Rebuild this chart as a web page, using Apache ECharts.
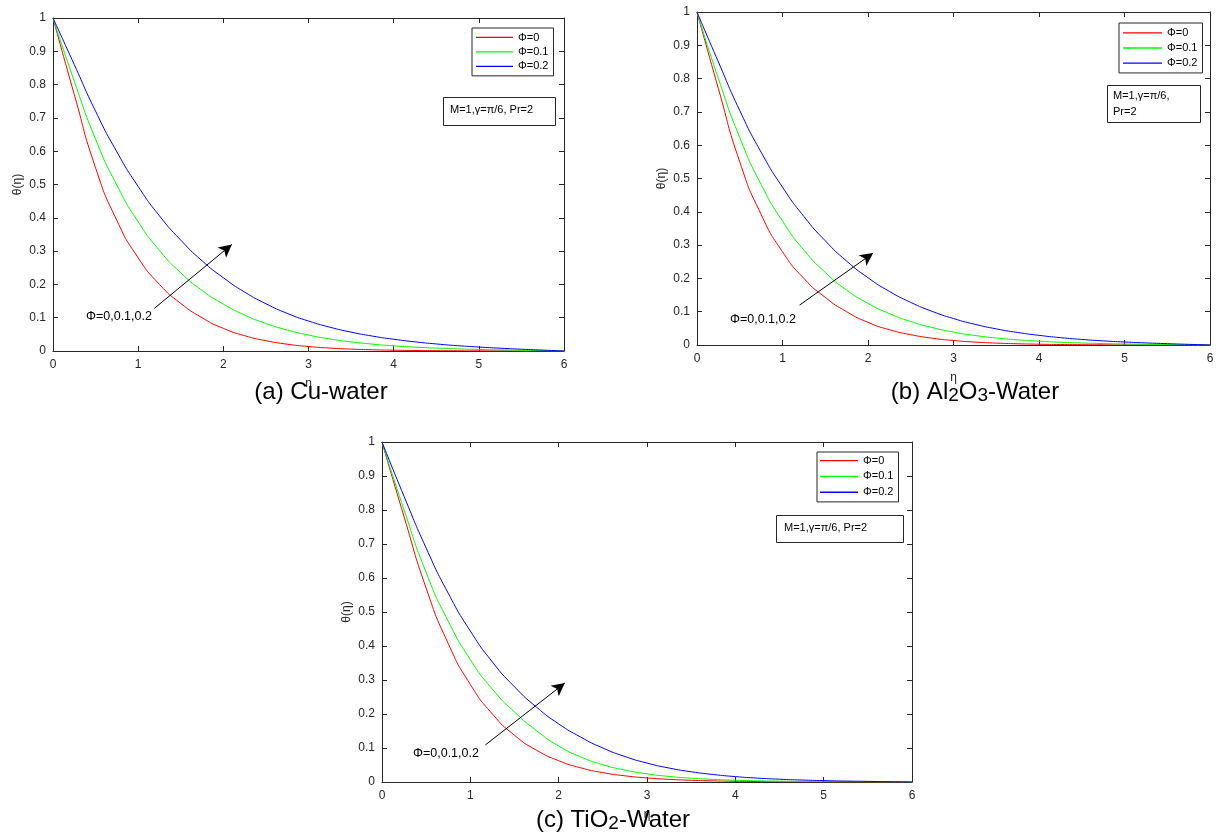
<!DOCTYPE html>
<html>
<head>
<meta charset="utf-8">
<script src="https://cdn.jsdelivr.net/npm/echarts@6/dist/echarts.min.js"></script>
<style>
html,body{margin:0;padding:0;background:#fff;}
#chart{width:1221px;height:836px;}
</style>
</head>
<body>
<div id="chart"></div>
<script>
// η sample positions
const eta = [0, 0.25, 0.5, 0.75, 1, 1.25, 1.5, 1.75, 2, 2.25, 2.5, 2.75, 3, 3.25, 3.5, 3.75, 4, 4.25, 4.5, 4.75, 5, 5.25, 5.5, 5.75, 6];

// (a) Cu-water
const cuPhi0  = [1, 0.77, 0.55, 0.392, 0.28, 0.2, 0.143, 0.1, 0.068, 0.046, 0.031, 0.0205, 0.0135, 0.0088, 0.0057, 0.0037, 0.0024, 0.0015, 0.001, 0.0006, 0.0004, 0.00025, 0.00015, 0.00007, 0];
const cuPhi01 = [1, 0.81, 0.636, 0.498, 0.388, 0.302, 0.235, 0.182, 0.141, 0.108, 0.0828, 0.0631, 0.048, 0.0363, 0.0274, 0.0206, 0.0155, 0.0116, 0.0087, 0.0064, 0.0047, 0.0034, 0.0023, 0.0012, 0];
const cuPhi02 = [1, 0.86, 0.72, 0.598, 0.494, 0.406, 0.333, 0.271, 0.22, 0.177, 0.142, 0.113, 0.09, 0.0716, 0.0567, 0.0448, 0.0353, 0.0275, 0.0212, 0.016, 0.0119, 0.0084, 0.0054, 0.0027, 0];

// (b) Al2O3-Water
const alPhi0  = [1, 0.77, 0.55, 0.392, 0.28, 0.2, 0.143, 0.1, 0.068, 0.046, 0.031, 0.0205, 0.0135, 0.0088, 0.0057, 0.0037, 0.0024, 0.0015, 0.001, 0.0006, 0.0004, 0.00025, 0.00015, 0.00007, 0];
const alPhi01 = [1, 0.8, 0.623, 0.482, 0.372, 0.285, 0.218, 0.165, 0.125, 0.0943, 0.0704, 0.0524, 0.0388, 0.0286, 0.0211, 0.0155, 0.0114, 0.0083, 0.006, 0.0043, 0.003, 0.0021, 0.0013, 0.0006, 0];
const alPhi02 = [1, 0.85, 0.704, 0.579, 0.474, 0.386, 0.313, 0.252, 0.202, 0.161, 0.128, 0.101, 0.0794, 0.0622, 0.0484, 0.0376, 0.029, 0.0221, 0.0167, 0.0124, 0.009, 0.0063, 0.004, 0.002, 0];

// (c) TiO2-Water
const tiPhi0  = [1, 0.78, 0.57, 0.407, 0.287, 0.2, 0.1375, 0.0934, 0.0627, 0.0417, 0.0276, 0.0182, 0.012, 0.0078, 0.0051, 0.0033, 0.0021, 0.0014, 0.0009, 0.0006, 0.0004, 0.00025, 0.00015, 0.00007, 0];
const tiPhi01 = [1, 0.8, 0.616, 0.473, 0.36, 0.273, 0.206, 0.151, 0.106, 0.0738, 0.051, 0.0351, 0.024, 0.0164, 0.0112, 0.0076, 0.0052, 0.0035, 0.0024, 0.0016, 0.0011, 0.0007, 0.0004, 0.0002, 0];
const tiPhi02 = [1, 0.84, 0.688, 0.555, 0.444, 0.353, 0.28, 0.22, 0.171, 0.132, 0.1, 0.075, 0.0557, 0.0411, 0.0301, 0.022, 0.0159, 0.0114, 0.0082, 0.0058, 0.0041, 0.0028, 0.0018, 0.0009, 0];

const seriesNames = ['Φ=0', 'Φ=0.1', 'Φ=0.2'];
const seriesColors = ['#ff0000', '#00ff00', '#0000ff'];
const captions = ['(a) Cu-water', '(b) Al2O3-Water', '(c) TiO2-Water'];
const paramText = ['M=1,γ=π/6, Pr=2', 'M=1,γ=π/6,\nPr=2', 'M=1,γ=π/6, Pr=2'];
const arrowText = 'Φ=0,0.1,0.2';
// arrow annotations in data coordinates [tail, head]
const arrowA = [[1.19, 0.128], [2.1, 0.32]];
const arrowB = [[1.2, 0.12], [2.06, 0.276]];
const arrowC = [[1.17, 0.109], [2.07, 0.291]];

const panels = [
  {data: [cuPhi0, cuPhi01, cuPhi02], arrow: arrowA},
  {data: [alPhi0, alPhi01, alPhi02], arrow: arrowB},
  {data: [tiPhi0, tiPhi01, tiPhi02], arrow: arrowC}
];

const FONT = '"Liberation Sans", Arial, Helvetica, sans-serif';
const AX = '#262626';

const grids = [
  {left: 53, top: 18, width: 511, height: 333},
  {left: 697, top: 12, width: 513, height: 333},
  {left: 382, top: 442, width: 530, height: 340}
];

const xAxes = [], yAxes = [], series = [], legends = [];
grids.forEach((g, gi) => {
  g.show = false;
  xAxes.push({
    gridIndex: gi, type: 'value', min: 0, max: 6, interval: 1, position: 'bottom',
    name: 'η', nameLocation: 'middle', nameGap: 27,
    nameTextStyle: {fontFamily: FONT, fontSize: 12, color: AX},
    axisLine: {show: true, onZero: false, lineStyle: {color: AX, width: 1}},
    axisTick: {show: true, inside: true, length: 5, lineStyle: {color: AX}},
    axisLabel: {fontFamily: FONT, fontSize: 12, color: AX, margin: 8},
    splitLine: {show: false}
  });
  xAxes.push({
    gridIndex: gi, type: 'value', min: 0, max: 6, interval: 1, position: 'top',
    axisLine: {show: true, onZero: false, lineStyle: {color: AX, width: 1}},
    axisTick: {show: true, inside: true, length: 5, lineStyle: {color: AX}},
    axisLabel: {show: false}, splitLine: {show: false}
  });
  yAxes.push({
    gridIndex: gi, type: 'value', min: 0, max: 1, interval: 0.1, position: 'left',
    name: 'θ(η)', nameLocation: 'middle', nameGap: 29, nameRotate: 90,
    nameTextStyle: {fontFamily: FONT, fontSize: 12, color: AX},
    axisLine: {show: true, onZero: false, lineStyle: {color: AX, width: 1}},
    axisTick: {show: true, inside: true, length: 5, lineStyle: {color: AX}},
    axisLabel: {fontFamily: FONT, fontSize: 12, color: AX, margin: 7},
    splitLine: {show: false}
  });
  yAxes.push({
    gridIndex: gi, type: 'value', min: 0, max: 1, interval: 0.1, position: 'right',
    axisLine: {show: true, onZero: false, lineStyle: {color: AX, width: 1}},
    axisTick: {show: true, inside: true, length: 5, lineStyle: {color: AX}},
    axisLabel: {show: false}, splitLine: {show: false}
  });
  const p = panels[gi];
  p.data.forEach((arr, si) => {
    const s = {
      name: seriesNames[si] + (gi === 0 ? '' : '\u200b'.repeat(gi)),
      type: 'line', xAxisIndex: gi * 2, yAxisIndex: gi * 2,
      data: eta.map((x, i) => [x, arr[i]]),
      symbol: 'none', smooth: 0.6,
      lineStyle: {color: seriesColors[si], width: 1},
      itemStyle: {color: seriesColors[si]},
      z: 3
    };
    if (si === 2) {
      s.markLine = {
        silent: true, symbol: ['none', 'arrow'], symbolSize: 11,
        label: {show: false},
        itemStyle: {color: '#000'},
        lineStyle: {color: '#000', width: 1, type: 'solid'},
        emphasis: {disabled: true},
        data: [[{coord: p.arrow[0], symbol: 'none'}, {coord: p.arrow[1], symbol: 'arrow', symbolSize: [10, 13]}]]
      };
    }
    series.push(s);
  });
});

const legendPos = [
  {left: 472, top: 28, itemWidth: 37, itemGap: 1.5, pad: [3, 5, 3, 4]},
  {left: 1119, top: 23, itemWidth: 39, itemGap: 1.5, pad: [3, 5, 3, 4]},
  {left: 817, top: 452, itemWidth: 38, itemGap: 2.5, pad: [2, 5, 3, 3]}
];
const legendIcon = 'path://M0,0 M0,6.3 L40,6.3 L40,7.7 L0,7.7 Z M40,14';
legendPos.forEach((lp, gi) => {
  legends.push({
    show: true, orient: 'vertical', left: lp.left, top: lp.top,
    icon: legendIcon,
    itemWidth: lp.itemWidth, itemHeight: 14, itemGap: lp.itemGap, itemTextGap: 5,
    padding: lp.pad, borderColor: AX, borderWidth: 1, backgroundColor: '#fff',
    selectedMode: false,
    itemStyle: {borderWidth: 0},
    data: seriesNames.map((n, si) => ({
      name: n + (gi === 0 ? '' : '\u200b'.repeat(gi)),
      itemStyle: {color: seriesColors[si], borderWidth: 0, opacity: 1}
    })),
    textStyle: {fontFamily: FONT, fontSize: 11, color: '#000'},
    formatter: n => n.replace(/\u200b/g, '')
  });
});

const capStyle = {
  fontFamily: FONT, fontSize: 24, fill: '#000',
  rich: {
    m: {fontFamily: FONT, fontSize: 24, color: '#000'},
    s: {fontFamily: FONT, fontSize: 19, color: '#000', padding: [7, 0, 0, 0]}
  }
};
function capText(str) {
  return str.replace(/(\d)(?=[A-Z-])/g, '}{s|$1}{m|').replace(/^/, '{m|') + '}';
}

const graphic = [
  // parameter boxes
  {type: 'rect', left: 443, top: 97, shape: {width: 112, height: 28}, style: {fill: '#fff', stroke: AX, lineWidth: 1}, z: 50},
  {type: 'text', left: 450, top: 104, style: {text: paramText[0], fontFamily: FONT, fontSize: 11, fill: '#000'}, z: 51},
  {type: 'rect', left: 1107, top: 85, shape: {width: 93, height: 37}, style: {fill: '#fff', stroke: AX, lineWidth: 1}, z: 50},
  {type: 'text', left: 1113, top: 88, style: {text: paramText[1], fontFamily: FONT, fontSize: 11, lineHeight: 16, fill: '#000'}, z: 51},
  {type: 'rect', left: 776, top: 515, shape: {width: 127, height: 27}, style: {fill: '#fff', stroke: AX, lineWidth: 1}, z: 50},
  {type: 'text', left: 784, top: 522, style: {text: paramText[2], fontFamily: FONT, fontSize: 11, fill: '#000'}, z: 51},
  // arrow labels
  {type: 'text', left: 86, top: 310, style: {text: arrowText, fontFamily: FONT, fontSize: 12.5, fill: '#000'}, z: 51},
  {type: 'text', left: 730, top: 313, style: {text: arrowText, fontFamily: FONT, fontSize: 12.5, fill: '#000'}, z: 51},
  {type: 'text', left: 413, top: 747, style: {text: arrowText, fontFamily: FONT, fontSize: 12.5, fill: '#000'}, z: 51},
  // captions
  {type: 'text', x: 321, y: 392, style: Object.assign({}, capStyle, {text: capText(captions[0]), align: 'center', verticalAlign: 'middle'}), z: 60},
  {type: 'text', x: 975, y: 392, style: Object.assign({}, capStyle, {text: capText(captions[1]), align: 'center', verticalAlign: 'middle'}), z: 60},
  {type: 'text', x: 613, y: 820, style: Object.assign({}, capStyle, {text: capText(captions[2]), align: 'center', verticalAlign: 'middle'}), z: 60}
];

const chart = echarts.init(document.getElementById('chart'), null, {renderer: 'canvas'});
chart.setOption({
  animation: false,
  backgroundColor: '#fff',
  grid: grids,
  xAxis: xAxes,
  yAxis: yAxes,
  legend: legends,
  series: series,
  graphic: graphic
});
</script>
</body>
</html>
